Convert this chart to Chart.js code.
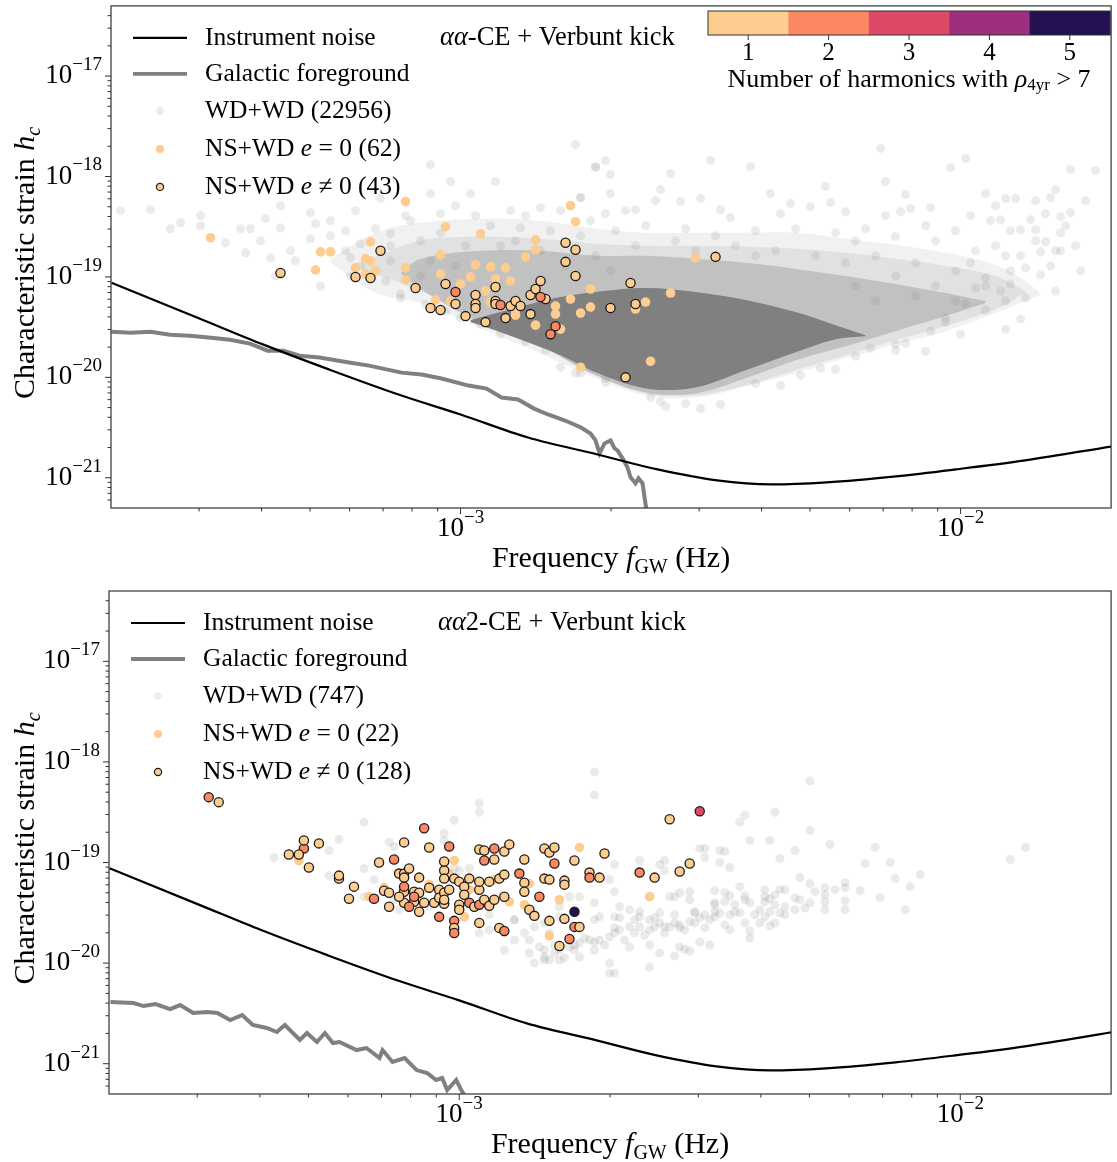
<!DOCTYPE html>
<html>
<head>
<meta charset="utf-8">
<script src="https://cdn.jsdelivr.net/npm/chart.js@4.4.1/dist/chart.umd.min.js"></script>
<style>
  body { margin: 0; background: #fff; }
  canvas { display: block; }
</style>
</head>
<body>
<canvas id="topChart" width="1117" height="583"></canvas>
<canvas id="bottomChart" width="1117" height="579"></canvas>
<script>
// all values are log10(f / Hz) and log10(h_c)

// LISA instrument noise (same curve in both panels)
const noiseCurve = [[-3.698,-19.058],[-3.521,-19.416],[-3.394,-19.674],[-3.262,-19.923],[-3.118,-20.181],[-3.000,-20.370],[-2.865,-20.599],[-2.726,-20.768],[-2.606,-20.917],[-2.487,-21.026],[-2.378,-21.066],[-2.268,-21.046],[-2.129,-20.986],[-2.010,-20.917],[-1.871,-20.827],[-1.698,-20.688]];

// galactic foreground, top panel (aa-CE)
const fgTop = [[-3.698,-19.545],[-3.660,-19.555],[-3.620,-19.545],[-3.581,-19.575],[-3.541,-19.585],[-3.499,-19.605],[-3.461,-19.625],[-3.421,-19.664],[-3.386,-19.734],[-3.354,-19.734],[-3.322,-19.784],[-3.282,-19.803],[-3.223,-19.853],[-3.183,-19.883],[-3.118,-19.953],[-3.078,-19.972],[-3.038,-20.012],[-2.984,-20.082],[-2.948,-20.112],[-2.918,-20.201],[-2.885,-20.221],[-2.853,-20.311],[-2.825,-20.370],[-2.791,-20.430],[-2.759,-20.499],[-2.740,-20.559],[-2.730,-20.628],[-2.722,-20.757],[-2.712,-20.658],[-2.700,-20.628],[-2.692,-20.708],[-2.686,-20.728],[-2.676,-20.807],[-2.666,-20.897],[-2.660,-20.996],[-2.650,-21.056],[-2.644,-21.006],[-2.636,-21.056],[-2.632,-21.195],[-2.628,-21.324]];

// galactic foreground, bottom panel (aa2-CE)
const fgBottom = [[-3.696,-20.387],[-3.650,-20.397],[-3.630,-20.427],[-3.606,-20.407],[-3.577,-20.457],[-3.557,-20.417],[-3.531,-20.496],[-3.503,-20.486],[-3.483,-20.496],[-3.457,-20.566],[-3.433,-20.516],[-3.412,-20.615],[-3.384,-20.645],[-3.364,-20.685],[-3.348,-20.615],[-3.318,-20.764],[-3.304,-20.695],[-3.284,-20.784],[-3.268,-20.695],[-3.252,-20.794],[-3.239,-20.784],[-3.205,-20.864],[-3.185,-20.844],[-3.159,-20.943],[-3.153,-20.864],[-3.133,-20.983],[-3.109,-20.943],[-3.085,-21.063],[-3.064,-21.092],[-3.046,-21.162],[-3.034,-21.142],[-3.024,-21.261],[-3.006,-21.162],[-2.996,-21.261],[-2.990,-21.311]];

// WD+WD top: density envelopes of the dense cloud (freq nodes, upper, lower)
const wdTopBandF  = [-3.26,-3.17,-3.08,-2.96,-2.84,-2.73,-2.63,-2.53,-2.43,-2.33,-2.23,-2.13,-2.03,-1.93,-1.87,-1.84];
const wdTopBandUp = [-18.82,-18.56,-18.46,-18.42,-18.44,-18.52,-18.56,-18.56,-18.56,-18.56,-18.62,-18.68,-18.76,-18.88,-19.04,-19.17];
const wdTopBandLo = [-18.86,-19.16,-19.26,-19.51,-19.76,-20.01,-20.18,-20.20,-20.09,-19.96,-19.81,-19.67,-19.54,-19.36,-19.24,-19.18];
const wdTopInnerF  = [-3.20,-3.08,-2.96,-2.84,-2.73,-2.63,-2.53,-2.43,-2.33,-2.23,-2.13,-2.03,-1.93,-1.87];
const wdTopInnerUp = [-18.86,-18.64,-18.60,-18.62,-18.67,-18.69,-18.69,-18.70,-18.72,-18.76,-18.82,-18.89,-18.99,-19.14];
const wdTopInnerLo = [-18.92,-19.14,-19.44,-19.69,-19.98,-20.16,-20.18,-20.08,-19.93,-19.78,-19.63,-19.49,-19.32,-19.16];
const wdTopMidF   = [-3.12,-3.08,-2.96,-2.84,-2.73,-2.63,-2.53,-2.43,-2.33,-2.23,-2.13,-2.03,-1.95];
const wdTopMidUp  = [-18.96,-18.82,-18.74,-18.74,-18.79,-18.79,-18.82,-18.86,-18.92,-18.99,-19.07,-19.16,-19.24];
const wdTopMidLo  = [-18.96,-19.12,-19.46,-19.69,-19.98,-20.15,-20.16,-20.01,-19.83,-19.69,-19.54,-19.39,-19.26];
const wdTopCoreF  = [-2.98,-2.92,-2.86,-2.80,-2.73,-2.63,-2.53,-2.43,-2.33,-2.25,-2.19];
const wdTopCoreUp = [-19.43,-19.35,-19.27,-19.20,-19.15,-19.11,-19.15,-19.23,-19.35,-19.48,-19.58];
const wdTopCoreLo = [-19.45,-19.55,-19.66,-19.78,-19.95,-20.11,-20.10,-19.93,-19.75,-19.62,-19.59];

// WD+WD top: sparse outlying binaries
const wdTop = [[-3.68,-18.34],[-3.62,-18.33],[-3.58,-18.52],[-3.56,-18.46],[-3.52,-18.39],[-3.52,-18.49],[-3.47,-18.66],[-3.44,-18.52],[-3.42,-18.52],[-3.40,-18.64],[-3.39,-18.42],[-3.43,-18.76],[-3.38,-18.81],[-3.37,-18.99],[-3.36,-18.51],[-3.36,-18.29],[-3.34,-18.74],[-3.33,-18.84],[-3.30,-18.36],[-3.30,-18.62],[-3.29,-18.47],[-3.26,-18.44],[-3.23,-18.54],[-3.22,-18.81],[-3.20,-18.67],[-3.21,-18.34],[-3.16,-18.22],[-3.14,-18.57],[-3.14,-18.84],[-3.12,-19.21],[-3.10,-18.44],[-3.06,-17.88],[-3.06,-18.17],[-3.04,-18.37],[-2.98,-18.17],[-3.02,-18.05],[-2.93,-18.05],[-2.90,-18.34],[-2.88,-18.51],[-2.84,-18.31],[-2.80,-18.34],[-2.76,-18.21],[-2.73,-17.90],[-2.74,-18.44],[-2.71,-18.37],[-2.80,-19.90],[-2.76,-19.96],[-2.71,-20.01],[-2.83,-19.73],[-2.87,-19.64],[-2.92,-19.57],[-2.96,-19.47],[-3.00,-19.41],[-3.03,-19.34],[-3.07,-19.27],[-3.12,-19.17],
[-2.77,-17.68],[-2.73,-17.91],[-2.71,-17.84],[-2.70,-17.98],[-2.70,-18.17],[-2.76,-18.21],[-2.60,-18.13],[-2.58,-17.97],[-2.50,-17.84],[-2.42,-17.90],[-2.38,-18.17],[-2.52,-18.22],[-2.48,-18.33],[-2.46,-18.41],[-2.61,-18.24],[-2.56,-18.25],[-2.67,-18.34],[-2.65,-18.33],[-2.36,-18.37],[-2.34,-18.27],[-2.30,-18.30],[-2.27,-18.10],[-2.26,-18.26],[-2.23,-18.35],[-2.16,-17.72],[-2.15,-18.05],[-2.11,-18.18],[-2.12,-18.35],[-2.10,-18.32],[-2.06,-18.31],[-2.02,-17.91],[-1.99,-17.82],[-1.95,-18.17],[-1.93,-18.29],[-1.91,-18.22],[-1.89,-18.22],[-1.98,-18.39],[-1.94,-18.44],[-1.92,-18.43],[-1.88,-18.53],[-1.86,-18.43],[-1.85,-18.53],[-1.83,-18.37],[-1.81,-18.13],[-1.82,-18.21],[-1.80,-18.40],[-1.78,-17.93],[-1.78,-18.36],[-1.80,-18.56],[-1.83,-18.65],[-1.81,-18.74],[-1.80,-18.74],[-1.84,-18.75],[-1.87,-18.91],[-1.84,-18.98],[-1.90,-19.07],[-1.87,-19.21],[-1.88,-19.42],[-1.91,-19.52],[-1.95,-19.33],[-2.00,-19.57],[-2.03,-19.45],[-2.07,-19.74],[-2.11,-19.66],[-2.13,-19.73],[-2.21,-19.79],[-2.25,-19.92],[-2.28,-19.91],[-2.32,-19.98],[-2.36,-20.08],[-2.41,-20.06],[-2.48,-20.27],[-2.52,-20.31],[-2.59,-20.29],[-2.55,-20.26],[-2.60,-20.24],[-2.62,-20.20],[-2.71,-20.05],[-2.77,-19.96],[-2.18,-19.71],[-2.13,-19.67],[-2.06,-19.54],[-2.03,-19.41],[-1.99,-19.27],[-1.97,-19.11],[-1.92,-19.14],[-1.95,-19.01],[-1.90,-18.94],[-1.73,-17.94],
[-2.69,-18.54],[-2.63,-18.49],[-2.55,-18.52],[-2.49,-18.59],[-2.41,-18.54],[-2.33,-18.52],[-2.25,-18.56],[-2.19,-18.52],[-2.13,-18.60],[-2.05,-18.64],[-1.97,-18.74],[-1.91,-18.79],[-2.01,-18.94],[-2.09,-18.86],[-2.17,-18.79],[-2.23,-18.86],[-2.53,-18.74],[-2.41,-18.79],
[-3.26,-18.59],[-3.23,-18.74],[-3.20,-18.89],[-3.17,-18.52],[-3.14,-18.69],[-3.11,-18.39],[-3.08,-18.64],[-3.06,-18.84],[-3.04,-18.56],[-3.01,-18.29],[-2.99,-18.69],[-2.97,-18.39],[-2.94,-18.49],[-2.92,-18.69],[-2.89,-18.64],[-2.87,-18.39],[-2.84,-18.74],[-2.82,-18.54],[-2.79,-18.89],[-2.76,-18.59],[-2.73,-18.79],[-2.70,-18.94],[-3.01,-18.89],[-3.08,-18.99],[-3.15,-19.04],[-3.22,-18.99],[-3.28,-19.09],
[-2.21,-19.09],[-2.17,-19.24],[-2.13,-18.99],[-2.09,-19.19],[-2.05,-19.09],[-2.01,-19.24],[-1.98,-18.86],[-1.95,-19.09],[-1.93,-18.69],[-1.91,-19.24],[-1.88,-18.79],[-1.85,-18.64],[-1.82,-18.89],[-1.79,-18.49],[-1.77,-18.69],[-1.75,-18.24],[-1.85,-18.24],[-1.90,-18.54],[-2.01,-18.54],[-2.07,-18.49],[-2.15,-18.39],[-2.21,-18.64],[-2.29,-18.79],[-2.37,-18.74],[-2.45,-18.69],[-2.57,-18.64],[-2.65,-18.69],[-1.76,-18.94],[-1.81,-19.14]];

// NS+WD e=0, top
const nsCircTop = [[-3.50,-18.61],[-3.11,-18.25],[-3.29,-18.93],[-3.28,-18.75],[-3.26,-18.75],[-3.18,-18.65],[-3.19,-18.82],[-3.18,-18.84],[-3.21,-18.91],[-3.17,-18.94],[-3.19,-18.97],[-3.11,-18.91],[-3.11,-19.03],[-3.03,-18.50],[-3.04,-18.78],[-3.04,-18.97],[-2.96,-18.57],[-2.97,-18.88],[-2.98,-19.00],[-2.94,-18.90],[-2.91,-18.91],[-2.93,-19.02],[-2.90,-19.04],[-2.85,-18.63],[-2.85,-18.73],[-2.87,-18.80],[-2.78,-18.29],[-2.77,-18.45],[-2.74,-19.12],[-2.78,-19.22],[-2.74,-19.30],[-2.76,-19.36],[-2.81,-19.29],[-2.81,-19.37],[-2.85,-19.48],[-2.80,-19.52],[-2.89,-19.38],[-2.89,-19.31],[-2.76,-19.90],[-3.05,-19.23],[-3.00,-19.07],[-2.63,-19.25],[-2.58,-19.16],[-2.65,-19.32],[-2.53,-18.81],[-2.62,-19.84],[-2.95,-19.14],[-3.02,-19.24],[-2.94,-19.25],[-2.89,-19.34]];

// NS+WD e!=0, top: [logf, logh, harmonics with rho > 7]
const nsEccTop = [[-3.36,-18.96,1],[-3.21,-19.00,1],[-3.18,-19.01,1],[-3.16,-18.74,1],[-3.09,-19.11,1],[-3.06,-19.31,1],[-3.04,-19.33,1],[-3.03,-19.07,1],[-3.01,-19.27,1],[-2.99,-19.39,1],[-2.97,-19.18,1],[-2.97,-19.27,1],[-2.97,-19.31,1],[-2.95,-19.45,1],[-2.93,-19.10,1],[-2.93,-19.24,1],[-2.93,-19.27,1],[-2.91,-19.41,1],[-2.90,-19.29,1],[-2.89,-19.24,1],[-2.88,-19.29,1],[-2.86,-19.37,1],[-2.86,-19.18,1],[-2.85,-19.12,1],[-2.84,-19.04,1],[-2.83,-19.22,1],[-2.79,-18.66,1],[-2.77,-18.73,1],[-2.79,-18.85,1],[-2.77,-18.99,1],[-2.70,-19.31,1],[-2.66,-19.06,1],[-2.65,-19.27,1],[-2.49,-18.80,1],[-2.67,-20.00,1],[-3.01,-19.15,2],[-2.92,-19.28,2],[-2.84,-19.20,2],[-2.81,-19.49,2],[-2.82,-19.57,2]];

// WD+WD bottom (747 binaries, outliers and the low-frequency streak)
const wdBottom = [[-3.37,-18.95],[-3.26,-18.88],[-3.24,-18.77],[-3.19,-18.60],[-3.14,-18.80],[-3.13,-18.84],[-3.19,-19.06],[-3.26,-19.13],[-3.17,-19.17],[-3.19,-19.34],[-3.13,-19.37],[-3.12,-19.47],[-3.06,-19.44],[-3.03,-18.71],[-3.03,-18.78],[-3.01,-18.58],[-2.96,-18.41],[-2.96,-18.50],[-3.01,-19.06],[-3.00,-19.08],[-2.98,-19.06],[-2.94,-19.52],[-2.96,-19.70],[-2.94,-19.67],[-2.91,-19.87],[-2.89,-19.57],[-2.89,-19.77],[-2.86,-19.90],[-2.84,-19.84],[-2.83,-19.94],[-2.82,-19.97],[-2.81,-19.90],[-2.80,-19.87],[-2.78,-19.84],[-2.77,-19.82],[-2.76,-19.80],[-2.74,-19.77],[-2.73,-19.79],[-2.72,-19.77],[-2.70,-19.74],[-2.69,-19.70],[-2.68,-19.67],[-2.66,-19.64],[-2.65,-19.70],[-2.64,-19.64],[-2.62,-19.67],[-2.61,-19.64],[-2.60,-19.60],[-2.58,-19.64],[-2.57,-19.60],[-2.56,-19.62],[-2.54,-19.59],[-2.53,-19.60],[-2.52,-19.55],[-2.50,-19.57],[-2.49,-19.54],[-2.48,-19.50],[-2.46,-19.52],[-2.45,-19.49],[-2.44,-19.50],[-2.83,-19.97],[-2.85,-20.00],[-2.80,-19.97],[-2.76,-19.94],[-2.70,-20.00],[-2.70,-20.10],[-2.66,-19.84],[-2.62,-20.04],[-2.60,-19.90],[-2.56,-19.84],[-2.50,-19.82],[-2.46,-19.67],[-2.62,-19.82],[-2.73,-18.10],[-2.73,-18.33],[-2.64,-18.98],[-2.59,-18.98],[-2.52,-18.86],[-2.48,-18.88],[-2.44,-18.60],[-2.44,-19.24],[-2.49,-19.40],[-2.54,-19.37],[-2.58,-19.34],[-2.69,-19.29],[-2.73,-19.40],[-2.76,-19.34],[-2.78,-19.34],[-2.80,-19.44],[-2.80,-19.54],[-2.60,-19.50],[-2.69,-19.54],[-2.66,-19.47],[-2.72,-19.54],[-2.73,-19.57],[-2.68,-19.55],[-2.64,-19.54],[-2.68,-19.44],[-2.83,-19.60],[-2.85,-19.64],[-2.89,-19.57],[-2.91,-19.70],[-2.87,-19.70],[-2.86,-19.77],[-2.82,-19.70],
[-2.30,-18.19],[-2.43,-18.53],[-2.37,-18.50],[-2.30,-18.68],[-2.42,-18.78],[-2.38,-18.78],[-2.33,-18.88],[-2.26,-18.82],[-2.17,-18.85],[-2.36,-18.96],[-2.51,-18.86],[-2.51,-18.95],[-2.47,-18.89],[-2.48,-19.00],[-2.46,-19.05],[-2.60,-19.02],[-2.59,-19.08],[-2.69,-19.02],[-2.70,-19.17],[-2.19,-19.01],[-2.14,-19.00],[-2.08,-19.12],[-2.13,-19.16],[-2.10,-19.24],[-2.16,-19.35],[-2.20,-19.28],[-2.23,-19.20],[-2.23,-19.25],[-2.27,-19.25],[-2.27,-19.32],[-2.32,-19.15],[-2.30,-19.21],[-2.23,-19.38],[-2.23,-19.47],[-2.11,-19.47],[-2.27,-19.47],[-2.33,-19.47],[-2.32,-19.37],[-2.30,-19.40],[-2.36,-19.27],[-2.35,-19.27],[-2.39,-19.27],[-2.38,-19.36],[-2.39,-19.34],[-2.37,-19.42],[-2.35,-19.44],[-2.36,-19.50],[-2.38,-19.49],[-2.38,-19.63],[-2.37,-19.60],[-2.40,-19.60],[-2.39,-19.54],[-2.40,-19.47],[-2.42,-19.40],[-2.43,-19.33],[-2.46,-19.33],[-2.47,-19.30],[-2.49,-19.28],[-2.49,-19.49],[-2.47,-19.39],[-2.43,-19.60],[-2.42,-19.68],[-2.42,-19.75],[-2.54,-19.88],[-2.55,-19.86],[-2.57,-19.93],[-2.69,-20.10],[-2.52,-19.79],[-2.56,-19.65],[-2.53,-19.50],[-2.51,-19.52],[-2.59,-19.64],[-2.62,-19.57],[-2.64,-19.49],[-2.57,-19.34],[-2.54,-19.29],[-2.56,-19.30],[-1.90,-18.97],[-1.87,-18.85],
[-2.83,-19.87],[-2.81,-19.82],[-2.79,-19.95],[-2.77,-19.87],[-2.75,-19.75],[-2.73,-19.87],[-2.71,-19.82],[-2.69,-19.65],[-2.67,-19.77],[-2.65,-19.57],[-2.63,-19.72],[-2.61,-19.55],[-2.59,-19.70],[-2.57,-19.52],[-2.55,-19.67],[-2.53,-19.49],[-2.51,-19.65],[-2.49,-19.42],[-2.47,-19.62],[-2.45,-19.42],[-2.43,-19.37],[-2.41,-19.52],[-2.39,-19.39],[-2.37,-19.32],[-2.35,-19.52],[-2.33,-19.35],[-2.31,-19.45],[-2.29,-19.29],[-2.27,-19.39],[-2.25,-19.27]];

// NS+WD e=0, bottom
const nsCircBottom = [[-3.32,-18.98],[-3.18,-19.34],[-2.76,-18.85],[-2.62,-19.34],[-2.82,-19.73],[-2.87,-19.42],[-2.85,-19.53],[-2.90,-19.39],[-2.99,-19.54],[-3.02,-19.11],[-3.06,-19.22],[-3.15,-19.25],[-2.86,-19.21],[-3.08,-19.32],[-2.98,-19.27],[-2.93,-19.17],[-2.80,-19.37],[-3.01,-18.98]];

// NS+WD e!=0, bottom: [logf, logh, harmonics with rho > 7]
const nsEccBottom = [[-3.34,-18.92,1],[-3.31,-18.86,2],[-3.31,-18.78,1],[-3.28,-18.81,1],[-3.32,-18.92,1],[-3.30,-19.05,1],[-3.22,-19.36,1],[-3.24,-19.16,1],[-3.24,-19.13,1],[-3.21,-19.24,1],[-3.17,-19.36,2],[-3.16,-19.00,1],[-3.13,-18.97,2],[-3.15,-19.28,1],[-3.14,-19.30,1],[-3.14,-19.44,1],[-3.12,-19.11,1],[-3.11,-19.11,1],[-3.10,-19.06,1],[-3.11,-19.15,1],[-3.11,-18.80,1],[-3.08,-19.15,1],[-3.11,-19.29,1],[-3.11,-19.24,2],[-3.09,-19.29,1],[-3.08,-19.30,1],[-3.11,-19.40,1],[-3.09,-19.39,1],[-3.10,-19.44,2],[-3.08,-19.49,1],[-3.07,-19.40,1],[-3.07,-18.66,2],[-3.06,-18.85,1],[-3.06,-19.25,1],[-3.05,-19.40,1],[-3.04,-19.27,1],[-3.04,-19.54,2],[-3.03,-19.08,1],[-3.03,-19.16,1],[-3.03,-18.99,1],[-3.04,-19.35,1],[-3.03,-19.41,1],[-3.03,-19.30,1],[-3.02,-19.27,1],[-3.03,-19.37,1],[-3.02,-18.84,2],[-3.01,-19.16,1],[-3.01,-19.58,2],[-3.01,-19.65,1],[-3.01,-19.70,2],[-3.00,-19.42,1],[-3.00,-19.47,1],[-3.00,-19.19,1],[-2.99,-19.24,1],[-2.99,-19.32,1],[-2.98,-19.16,1],[-2.98,-19.40,2],[-2.97,-19.44,1],[-2.96,-19.42,2],[-2.96,-19.27,1],[-2.96,-19.19,1],[-2.96,-19.60,1],[-2.96,-18.87,1],[-2.95,-18.88,1],[-2.95,-18.98,2],[-2.95,-19.37,1],[-2.94,-19.43,1],[-2.94,-19.19,1],[-2.93,-19.37,1],[-2.93,-18.86,2],[-2.93,-18.97,1],[-2.92,-19.16,1],[-2.91,-18.89,1],[-2.90,-18.82,1],[-2.91,-19.12,1],[-2.91,-19.34,1],[-2.92,-19.65,1],[-2.91,-19.68,2],[-2.88,-19.11,2],[-2.87,-19.20,1],[-2.87,-19.29,1],[-2.87,-18.97,1],[-2.86,-19.47,1],[-2.84,-19.34,2],[-2.83,-18.86,1],[-2.82,-18.90,1],[-2.81,-18.85,1],[-2.83,-19.16,1],[-2.82,-19.17,1],[-2.81,-19.01,2],[-2.79,-19.18,1],[-2.79,-19.22,1],[-2.82,-19.58,1],[-2.80,-19.83,1],[-2.79,-19.56,1],[-2.77,-18.98,1],[-2.77,-19.64,2],[-2.76,-19.64,1],[-2.78,-19.76,2],[-2.74,-19.10,1],[-2.74,-19.15,2],[-2.72,-19.15,1],[-2.71,-18.91,1],[-2.64,-19.10,2],[-2.61,-19.15,1],[-2.58,-18.57,1],[-2.56,-19.09,1],[-2.54,-19.01,1],[-2.52,-18.49,3],[-3.50,-18.35,2],[-3.48,-18.40,1],[-3.12,-19.34,1],[-3.09,-19.34,2],[-2.85,-19.53,1],[-2.77,-19.49,5]];

// axis ticks and colour bar
const xMajorTicks = [1e-3, 1e-2];
const xMajorExp = [-3, -2];
const yMajorTicks = [1e-21, 1e-20, 1e-19, 1e-18, 1e-17];
const yMajorExp = [-21, -20, -19, -18, -17];
const harmonicLevels = [1, 2, 3, 4, 5];
const harmColors = ['#fdcd90', '#fb8861', '#de4968', '#9e2f7f', '#231151'];

const SERIF = '"Liberation Serif", "DejaVu Serif", serif';
const font = (size, style) => (style || '') + ' ' + size + 'px ' + SERIF;
const pt = d => ({ x: Math.pow(10, d[0]), y: Math.pow(10, d[1]) });

function band(f, up, lo, color, order) {
  return [
    { data: f.map((v, i) => pt([v, up[i]])), pointRadius: 0, borderWidth: 0, tension: 0.35,
      fill: '+1', backgroundColor: color, order: order },
    { data: f.map((v, i) => pt([v, lo[i]])), pointRadius: 0, borderWidth: 0, tension: 0.35,
      fill: false, order: order }
  ];
}

function buildDatasets(p) {
  let ds = [];
  ds.push({ data: p.ecc.map(pt), showLine: false, pointRadius: 4.6,
    pointBackgroundColor: p.ecc.map(d => harmColors[d[2] - 1]),
    pointBorderColor: '#1a1a1a', pointBorderWidth: 1.3, order: 0 });
  ds.push({ data: p.circ.map(pt), showLine: false, pointRadius: 4.8,
    pointBackgroundColor: harmColors[0], pointBorderWidth: 0, order: 1 });
  ds.push({ data: p.wd.map(pt), showLine: false, pointRadius: 4.5,
    pointBackgroundColor: p.wdColor, pointBorderWidth: 0, order: 2 });
  if (p.bands) {
    ds = ds.concat(band(wdTopBandF, wdTopBandUp, wdTopBandLo, 'rgba(128,128,128,0.11)', 11));
    ds = ds.concat(band(wdTopInnerF, wdTopInnerUp, wdTopInnerLo, 'rgba(128,128,128,0.14)', 10));
    ds = ds.concat(band(wdTopMidF, wdTopMidUp, wdTopMidLo, 'rgba(128,128,128,0.33)', 9));
    ds = ds.concat(band(wdTopCoreF, wdTopCoreUp, wdTopCoreLo, 'rgb(128,128,128)', 8));
  }
  ds.push({ data: noiseCurve.map(pt), pointRadius: 0, borderColor: '#000', borderWidth: 2.2,
    cubicInterpolationMode: 'monotone', fill: false, order: 20 });
  ds.push({ data: p.fg.map(pt), pointRadius: 0, borderColor: '#808080', borderWidth: 4,
    fill: false, order: 21 });
  return ds;
}

function rich(ctx, parts, x, y, align) {
  let w = 0;
  parts.forEach(q => { ctx.font = q[1]; w += ctx.measureText(q[0]).width; });
  let cx = align === 'center' ? x - w / 2 : (align === 'right' ? x - w : x);
  parts.forEach(q => {
    ctx.font = q[1];
    ctx.fillText(q[0], cx, y + (q[2] || 0));
    cx += ctx.measureText(q[0]).width;
  });
}

function powLabel(ctx, exp, x, y, align) {
  rich(ctx, [['10', font(27)], ['\u2212' + Math.abs(exp), font(19), -11]], x, y, align);
}

function makeDeco(p) {
  return {
    id: 'deco',
    afterDraw(chart) {
      const ctx = chart.ctx, a = chart.chartArea;
      const xs = chart.scales.x, ys = chart.scales.y;
      ctx.save();
      ctx.fillStyle = '#000';
      ctx.textBaseline = 'middle';
      ctx.textAlign = 'left';

      // frame
      ctx.strokeStyle = '#333';
      ctx.lineWidth = 1.2;
      ctx.strokeRect(a.left, a.top, a.right - a.left, a.bottom - a.top);

      // ticks
      ctx.lineWidth = 1;
      ctx.beginPath();
      for (let n = -4; n <= -2; n++) {
        for (let k = 2; k <= 9; k++) {
          const v = k * Math.pow(10, n);
          if (v <= xs.min * 1.001 || v >= xs.max * 0.999) continue;
          const px = xs.getPixelForValue(v);
          ctx.moveTo(px, a.bottom); ctx.lineTo(px, a.bottom + 3.5);
        }
      }
      for (let n = -22; n <= -17; n++) {
        for (let k = 2; k <= 9; k++) {
          const v = k * Math.pow(10, n);
          if (v <= ys.min * 1.001 || v >= ys.max * 0.999) continue;
          const py = ys.getPixelForValue(v);
          ctx.moveTo(a.left, py); ctx.lineTo(a.left - 3.5, py);
        }
      }
      xMajorTicks.forEach(v => { const px = xs.getPixelForValue(v); ctx.moveTo(px, a.bottom); ctx.lineTo(px, a.bottom + 6); });
      yMajorTicks.forEach(v => { const py = ys.getPixelForValue(v); ctx.moveTo(a.left, py); ctx.lineTo(a.left - 6, py); });
      ctx.stroke();

      xMajorTicks.forEach((v, i) => powLabel(ctx, xMajorExp[i], xs.getPixelForValue(v), a.bottom + 21, 'center'));
      yMajorTicks.forEach((v, i) => powLabel(ctx, yMajorExp[i], a.left - 9, ys.getPixelForValue(v), 'right'));

      // axis titles
      ctx.textBaseline = 'alphabetic';
      rich(ctx, [['Frequency ', font(30)], ['f', font(30, 'italic')], ['GW', font(20), 6], [' (Hz)', font(30)]],
        (a.left + a.right) / 2, a.bottom + 59, 'center');
      ctx.save();
      ctx.translate(34, (a.top + a.bottom) / 2 + 6);
      ctx.rotate(-Math.PI / 2);
      rich(ctx, [['Characteristic strain ', font(30)], ['h', font(30, 'italic')], ['c', font(20, 'italic'), 6]], 0, 0, 'center');
      ctx.restore();
      ctx.textBaseline = 'middle';

      // legend
      const lx = a.left + 22, tx = a.left + 94, mx = a.left + 49;
      const rows = [32, 68, 105, 143, 181].map(d => a.top + d);
      ctx.strokeStyle = '#000'; ctx.lineWidth = 2.2;
      ctx.beginPath(); ctx.moveTo(lx, rows[0]); ctx.lineTo(lx + 54, rows[0]); ctx.stroke();
      ctx.strokeStyle = '#808080'; ctx.lineWidth = 3.8;
      ctx.beginPath(); ctx.moveTo(lx, rows[1]); ctx.lineTo(lx + 54, rows[1]); ctx.stroke();
      ctx.fillStyle = 'rgba(128,128,128,0.15)';
      ctx.beginPath(); ctx.arc(mx, rows[2], 3.8, 0, 2 * Math.PI); ctx.fill();
      ctx.fillStyle = harmColors[0];
      ctx.beginPath(); ctx.arc(mx, rows[3], 4, 0, 2 * Math.PI); ctx.fill();
      ctx.beginPath(); ctx.arc(mx, rows[4], 3.6, 0, 2 * Math.PI); ctx.fill();
      ctx.strokeStyle = '#1a1a1a'; ctx.lineWidth = 1.2; ctx.stroke();

      ctx.fillStyle = '#000';
      const F = font(25.5), FI = font(25.5, 'italic');
      rich(ctx, [['Instrument noise', F]], tx, rows[0], 'left');
      rich(ctx, [['Galactic foreground', F]], tx, rows[1], 'left');
      rich(ctx, [['WD+WD (' + p.counts[0] + ')', F]], tx, rows[2], 'left');
      rich(ctx, [['NS+WD ', F], ['e', FI], [' = 0 (' + p.counts[1] + ')', F]], tx, rows[3], 'left');
      rich(ctx, [['NS+WD ', F], ['e', FI], [' \u2260 0 (' + p.counts[2] + ')', F]], tx, rows[4], 'left');

      // model name
      rich(ctx, [['\u03b1\u03b1', font(26.5, 'italic')], [p.model + '-CE + Verbunt kick', font(26.5)]], a.left + 329, rows[0], 'left');

      // colour bar
      if (p.colorbar) {
        const cx0 = 708, cx1 = 1110, cy0 = 11, cy1 = 35;
        const sw = (cx1 - cx0) / harmonicLevels.length;
        harmonicLevels.forEach((lev, i) => {
          ctx.fillStyle = harmColors[i];
          ctx.fillRect(cx0 + i * sw, cy0, sw + 0.5, cy1 - cy0);
        });
        ctx.strokeStyle = '#333'; ctx.lineWidth = 1;
        ctx.strokeRect(cx0, cy0, cx1 - cx0, cy1 - cy0);
        ctx.fillStyle = '#000';
        ctx.beginPath();
        harmonicLevels.forEach((lev, i) => {
          const tx2 = cx0 + (i + 0.5) * sw;
          ctx.moveTo(tx2, cy1); ctx.lineTo(tx2, cy1 + 5);
        });
        ctx.stroke();
        harmonicLevels.forEach((lev, i) => rich(ctx, [[String(lev), font(25)]], cx0 + (i + 0.5) * sw, 53, 'center'));
        rich(ctx, [['Number of harmonics with ', font(26)], ['\u03c1', font(26, 'italic')], ['4yr', font(17), 6], [' > 7', font(26)]],
          (cx0 + cx1) / 2, 80, 'center');
      }
      ctx.restore();
    }
  };
}

function makeChart(id, p) {
  return new Chart(document.getElementById(id), {
    type: 'line',
    data: { datasets: buildDatasets(p) },
    options: {
      responsive: false,
      animation: false,
      events: [],
      layout: { padding: { top: p.padTop, right: p.padRight, left: 0, bottom: 0 } },
      plugins: { legend: { display: false }, tooltip: { enabled: false } },
      scales: {
        x: { type: 'logarithmic', min: 2e-4, max: 2e-2,
             grid: { display: false }, border: { display: false }, ticks: { display: false },
             afterFit: s => { s.height = p.xAxisH; } },
        y: { type: 'logarithmic', min: 5e-22, max: 5e-17,
             grid: { display: false }, border: { display: false }, ticks: { display: false },
             afterFit: s => { s.width = p.yAxisW; } }
      }
    },
    plugins: [makeDeco(p)]
  });
}

makeChart('topChart', {
  ecc: nsEccTop, circ: nsCircTop, wd: wdTop, fg: fgTop, bands: true, wdColor: 'rgba(128,128,128,0.16)',
  counts: [22956, 62, 43], model: '', colorbar: true,
  padTop: 5, padRight: 1, xAxisH: 75, yAxisW: 111
});
makeChart('bottomChart', {
  ecc: nsEccBottom, circ: nsCircBottom, wd: wdBottom, fg: fgBottom, bands: false, wdColor: 'rgba(128,128,128,0.17)',
  counts: [747, 22, 128], model: '2', colorbar: false,
  padTop: 8, padRight: 2, xAxisH: 68, yAxisW: 109
});
</script>
</body>
</html>
